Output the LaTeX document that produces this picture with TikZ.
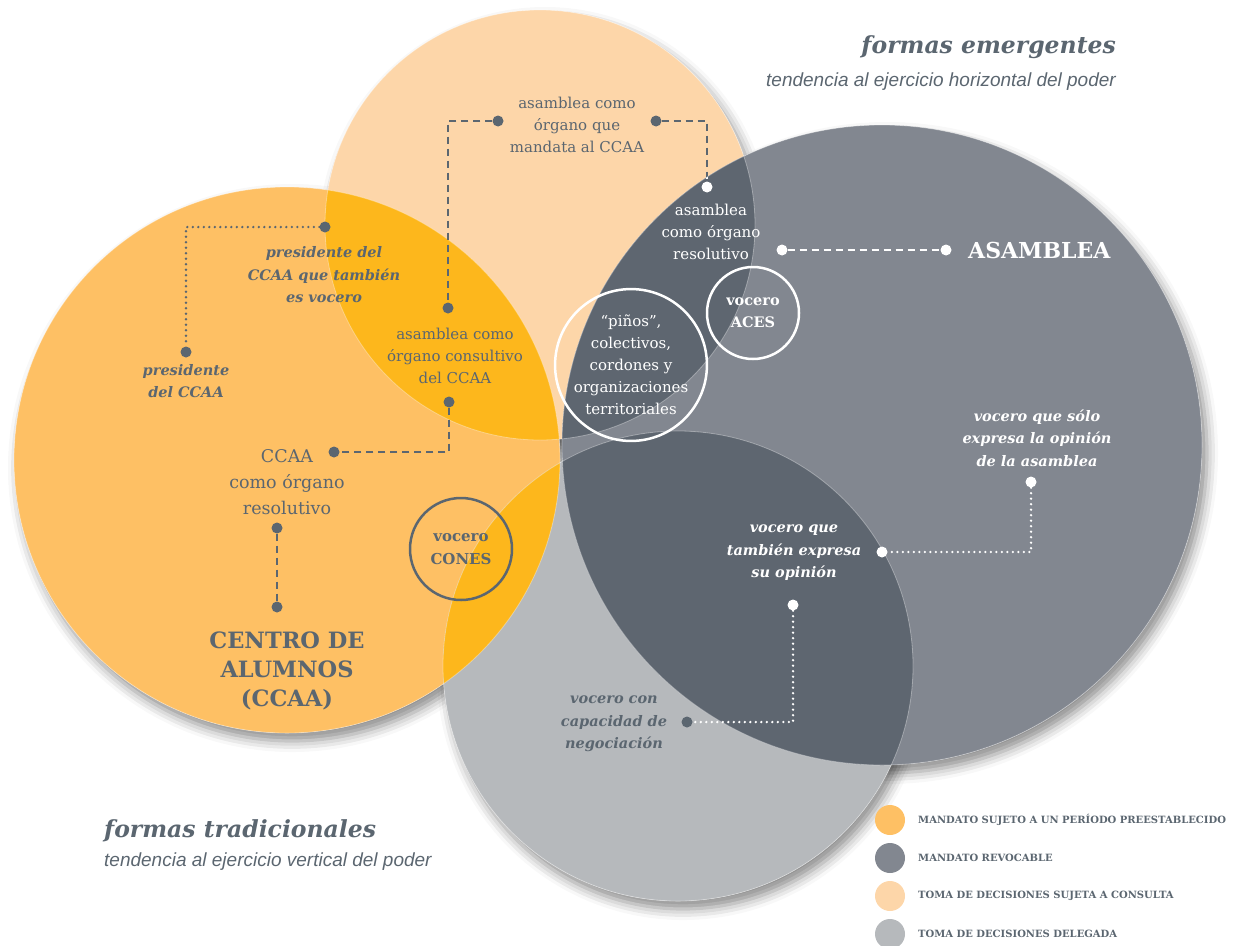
\documentclass[tikz,border=0pt]{standalone}
\usepackage{fontspec}
\setmainfont{DejaVu Serif}
\newfontfamily\sansfont{Liberation Sans}
\usepackage{tikz}
\usetikzlibrary{positioning, shadows.blur}

\definecolor{slate}{HTML}{5B6670}
\definecolor{orangelight}{HTML}{FEC064}
\definecolor{orangedeep}{HTML}{FDB71C}
\definecolor{peachlight}{HTML}{FDD6A9}
\definecolor{graymid}{HTML}{828790}
\definecolor{graydark}{HTML}{5E6670}
\definecolor{graylight}{HTML}{B6B9BC}

\newcommand{\peachdisk}{(540,225) circle[radius=215pt]}
\newcommand{\orangedisk}{(287,460) circle[radius=273pt]}
\newcommand{\darkdisk}{(882,445) circle[radius=320pt]}
\newcommand{\greydisk}{(678,666) circle[radius=235pt]}

\begin{document}
\begin{tikzpicture}[x=1pt, y=-1pt,
    dot/.style={circle, fill=slate, inner sep=0pt, minimum size=11pt},
    wdot/.style={dot, fill=white},
    link/.style={draw=slate, line width=2.5pt, dash pattern=on 7pt off 5pt},
    dotlink/.style={draw=slate, line width=2.6pt, line cap=round, dash pattern=on 0pt off 5.5pt},
    lbl/.style={text=slate, align=center, inner sep=0pt, font=\fontsize{15}{22}\selectfont},
    biglbl/.style={lbl, font=\fontsize{17.5}{26}\selectfont},
    emph/.style={lbl, font=\fontsize{14.5}{22.5}\selectfont\bfseries\itshape},
    ring/.style={circle, draw, line width=2.5pt, align=center, inner sep=0pt},
    keydot/.style={circle, inner sep=0pt, minimum size=30pt},
    keytext/.style={anchor=west, inner sep=0pt, text=slate, font=\fontsize{10}{12}\selectfont\bfseries}]
  \useasboundingbox (0,0) rectangle (1246,945);

  % soft shadows under the four sets
  \foreach \cx/\cy/\r in {540/225/215, 287/460/273, 882/445/320, 678/666/235}
    \fill[white, blur shadow={shadow xshift=5pt, shadow yshift=-8pt, shadow blur radius=11pt, shadow opacity=45}]
      (\cx,\cy) circle[radius=\r pt];

  % the sets
  \fill[peachlight] \peachdisk;
  \fill[orangelight] \orangedisk;
  \fill[graylight] \greydisk;
  \fill[graymid] \darkdisk;
  \begin{scope}
    \clip \orangedisk;
    \fill[orangedeep] \peachdisk;
    \fill[orangedeep] \greydisk;
  \end{scope}
  \begin{scope}
    \clip \darkdisk;
    \fill[graydark] \peachdisk;
    \fill[graydark] \greydisk;
  \end{scope}
  \foreach \cx/\cy/\r in {540/225/215, 287/460/273, 882/445/320, 678/666/235}
    \draw[white, opacity=.35, line width=.8pt] (\cx,\cy) circle[radius=\r pt];

  % titles
  \node[anchor=east, inner sep=0pt, text=slate, font=\fontsize{23.5}{26}\selectfont\bfseries\itshape]
    (emergtitle) at (1116,47) {formas emergentes};
  \node[anchor=east, inner sep=0pt, text=slate, font=\fontsize{19}{22}\selectfont\sansfont\itshape]
    (emergsub) at (1116,82) {tendencia al ejercicio horizontal del poder};
  \node[anchor=west, inner sep=0pt, text=slate, font=\fontsize{23.5}{26}\selectfont\bfseries\itshape]
    (tradtitle) at (104,831) {formas tradicionales};
  \node[anchor=west, inner sep=0pt, text=slate, font=\fontsize{19}{22}\selectfont\sansfont\itshape]
    (tradsub) at (104,862) {tendencia al ejercicio vertical del poder};

  % labels
  \node[lbl] (mandata) at (577,125) {asamblea como\\órgano que\\mandata al CCAA};
  \node[lbl] (consultivo) at (455,356) {asamblea como\\órgano consultivo\\del CCAA};
  \node[biglbl] (ccaares) at (287,482) {CCAA\\como órgano\\resolutivo};
  \node[lbl, text=slate, font=\fontsize{22.5}{29}\selectfont\bfseries] (centro) at (287,671)
    {CENTRO DE\\ALUMNOS\\(CCAA)};
  \node[emph] (presvoc) at (324,275) {presidente del\\CCAA que también\\es vocero};
  \node[emph] (pres) at (186,381) {presidente\\del CCAA};
  \node[lbl, text=white] (asamres) at (711,232) {asamblea\\como órgano\\resolutivo};
  \node[anchor=west, inner sep=0pt, text=white, font=\fontsize{22}{26}\selectfont\bfseries]
    (asamblea) at (968,250) {ASAMBLEA};
  \node[emph, text=white] (solo) at (1037,438) {vocero que sólo\\expresa la opinión\\de la asamblea};
  \node[emph, text=white] (tambien) at (794,553) {vocero que\\también expresa\\su opinión};
  \node[emph] (negocia) at (614,724) {vocero con\\capacidad de\\negociación};

  % rings
  \node[ring, draw=white, text=white, minimum size=92pt, font=\fontsize{14.5}{22}\selectfont\bfseries]
    (aces) at (753,313) {vocero\\ACES};
  \node[ring, draw=white, text=white, minimum size=140pt, font=\fontsize{15}{22}\selectfont]
    (pinos) at (631,365) {“piños”,\\colectivos,\\cordones y\\organizaciones\\territoriales};
  \node[ring, draw=slate, text=slate, minimum size=102pt, font=\fontsize{15}{23}\selectfont\bfseries]
    (cones) at (461,549) {vocero\\CONES};

  % dots
  \node[dot] (m1) at (498,121) {};
  \node[dot] (m2) at (656,121) {};
  \node[wdot] (m3) at (707,187) {};
  \node[dot] (c1) at (448,308) {};
  \node[dot] (c2) at (449,402) {};
  \node[dot] (r1) at (334,452) {};
  \node[dot] (r2) at (277,528) {};
  \node[dot] (r3) at (277,607) {};
  \node[dot] (p1) at (325,227) {};
  \node[dot] (p2) at (186,352) {};
  \node[wdot] (a1) at (782,250) {};
  \node[wdot] (a2) at (946,250) {};
  \node[wdot] (s1) at (1031,482) {};
  \node[wdot] (s2) at (882,552) {};
  \node[wdot] (t1) at (793,605) {};
  \node[dot] (t2) at (687,722) {};

  % connectors
  \draw[link] (m1) -| (c1);
  \draw[link] (m2) -| (m3);
  \begin{scope}
    \clip \darkdisk;
    \draw[link, draw=white] (m2) -| (m3);
  \end{scope}
  \draw[link] (c2) |- (r1);
  \draw[link] (r2) -- (r3);
  \draw[link, draw=white] (a1) -- (a2);
  \draw[dotlink] (p1) -| (p2);
  \draw[dotlink, draw=white] (s1) |- (s2);
  \draw[dotlink, draw=white] (t1) |- (t2);

  % legend
  \node[keydot, fill=orangelight] (k1) at (890,820) {};
  \node[keydot, fill=graymid] (k2) at (890,858) {};
  \node[keydot, fill=peachlight] (k3) at (890,896) {};
  \node[keydot, fill=graylight] (k4) at (890,934) {};
  \node[keytext] (k1t) at (918,820) {MANDATO SUJETO A UN PERÍODO PREESTABLECIDO};
  \node[keytext] (k2t) at (918,858) {MANDATO REVOCABLE};
  \node[keytext] (k3t) at (918,896) {TOMA DE DECISIONES SUJETA A CONSULTA};
  \node[keytext] (k4t) at (918,934) {TOMA DE DECISIONES DELEGADA};
\end{tikzpicture}
\end{document}
